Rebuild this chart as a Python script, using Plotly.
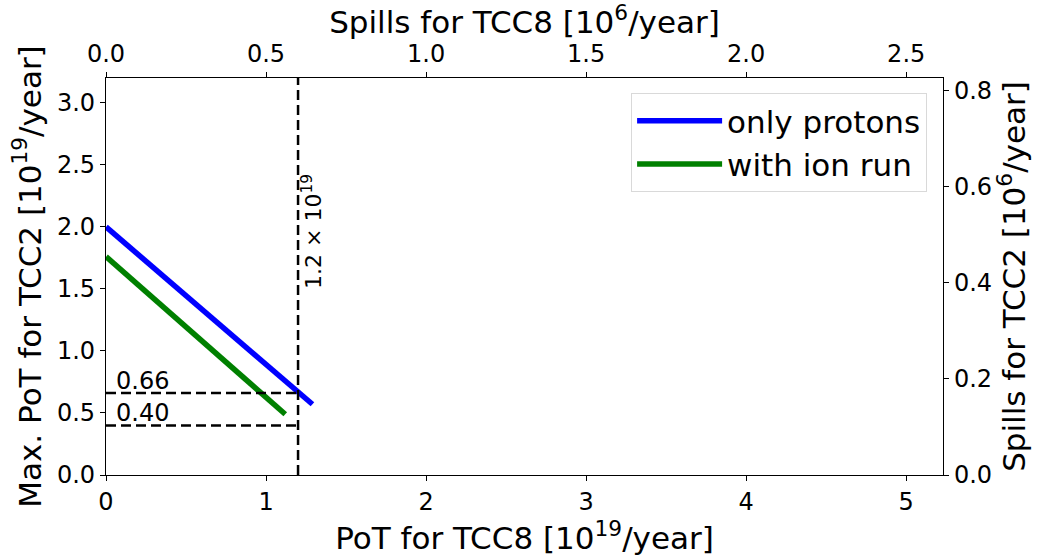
import plotly.graph_objects as go

# data
x_protons = [0.0, 1.29]
y_protons = [2.00, 0.57]
x_ion = [0.0, 1.12]
y_ion = [1.76, 0.49]
limit_x = 1.2
thresholds = [0.66, 0.40]
threshold_labels = ["0.66", "0.40"]
x_range = [0, 5.23]
y_range = [0, 3.2]
spill_ratio_top = 0.5
spill_ratio_right = 0.258

FONT = "DejaVu Sans"
TICK = 24
TITLE = 31
fig = go.Figure()

fig.add_trace(go.Scatter(x=x_protons, y=y_protons, mode="lines", name="only protons",
                         line=dict(color="#0000ff", width=5.5)))
fig.add_trace(go.Scatter(x=x_ion, y=y_ion, mode="lines", name="with ion run",
                         line=dict(color="#008000", width=5.5)))
# dashed threshold lines
for t in thresholds:
    fig.add_trace(go.Scatter(x=[0, limit_x], y=[t, t], mode="lines", showlegend=False,
                             line=dict(color="black", width=2.5, dash="10px,5px")))
fig.add_trace(go.Scatter(x=[limit_x, limit_x], y=y_range, mode="lines", showlegend=False,
                         line=dict(color="black", width=2.5, dash="10px,5px")))
# invisible traces for secondary axes
fig.add_trace(go.Scatter(x=[0, x_range[1] * spill_ratio_top], y=[0, 0], xaxis="x2", yaxis="y",
                         mode="markers", marker=dict(opacity=0), showlegend=False, hoverinfo="skip"))
fig.add_trace(go.Scatter(x=[0, 0], y=[0, y_range[1] * spill_ratio_right], xaxis="x", yaxis="y2",
                         mode="markers", marker=dict(opacity=0), showlegend=False, hoverinfo="skip"))

for t, lab in zip(thresholds, threshold_labels):
    fig.add_annotation(x=0.05, y=t, text=lab, showarrow=False, xanchor="left", yanchor="bottom",
                       yshift=-4, font=dict(size=TICK, color="black", family=FONT))
fig.add_annotation(x=limit_x, y=1.96, text="1.2 × 10<sup>19</sup>", showarrow=False, textangle=-90,
                   xanchor="left", yanchor="middle", xshift=-2,
                   font=dict(size=22, color="black", family=FONT))

axis_common = dict(showline=True, linecolor="black", linewidth=1.3, ticks="outside", ticklen=5,
                   tickcolor="black", showgrid=False, zeroline=False, mirror=False)

fig.update_layout(
    width=1038, height=556,
    margin=dict(l=106, r=95, t=78, b=78),
    plot_bgcolor="white", paper_bgcolor="white",
    font=dict(family=FONT, color="black", size=TICK),
    xaxis=dict(range=x_range, tickvals=[0, 1, 2, 3, 4, 5], ticktext=["0", "1", "2", "3", "4", "5"],
               title=dict(text="PoT for TCC8 [10<sup>19</sup>/year]", font=dict(size=TITLE), standoff=6),
               tickfont=dict(size=TICK), **axis_common),
    xaxis2=dict(range=[x_range[0] * spill_ratio_top, x_range[1] * spill_ratio_top], overlaying="x", side="top",
                anchor="y", tickvals=[0, 0.5, 1.0, 1.5, 2.0, 2.5],
                ticktext=["0.0", "0.5", "1.0", "1.5", "2.0", "2.5"],
                tickfont=dict(size=TICK),
                title=dict(text="Spills for TCC8 [10<sup>6</sup>/year]", font=dict(size=TITLE), standoff=4),
                **axis_common),
    yaxis=dict(range=y_range, tickvals=[0, 0.5, 1.0, 1.5, 2.0, 2.5, 3.0],
               ticktext=["0.0", "0.5", "1.0", "1.5", "2.0", "2.5", "3.0"],
               title=dict(text="Max. PoT for TCC2 [10<sup>19</sup>/year]", font=dict(size=TITLE), standoff=6),
               tickfont=dict(size=TICK), **axis_common),
    yaxis2=dict(range=[y_range[0] * spill_ratio_right, y_range[1] * spill_ratio_right], overlaying="y", side="right",
                anchor="x", tickvals=[0, 0.2, 0.4, 0.6, 0.8], ticktext=["0.0", "0.2", "0.4", "0.6", "0.8"],
                title=dict(text="Spills for TCC2 [10<sup>6</sup>/year]", font=dict(size=TITLE), standoff=6),
                tickfont=dict(size=TICK), **axis_common),
    legend=dict(x=0.981, y=0.962, xanchor="right", yanchor="top", bgcolor="white",
                bordercolor="#d9d9d9", borderwidth=1, font=dict(size=TITLE),
                tracegroupgap=4, itemwidth=85),
    showlegend=True,
)

fig.write_html("out.html")
